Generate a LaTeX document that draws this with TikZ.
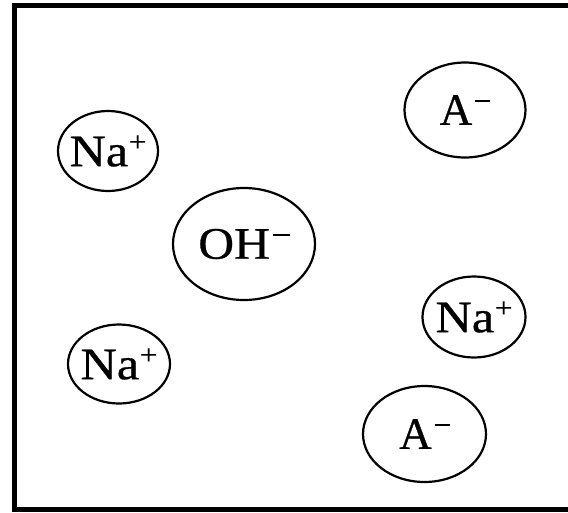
\documentclass[tikz,border=0pt]{standalone}
\usepackage{fontspec}
\setmainfont{Liberation Serif}[FakeBold=0.6]
\usetikzlibrary{shapes.geometric}
\newcommand\ionplus{\kern0.5pt\raisebox{15pt}{\fontsize{28}{28}\selectfont +}}
\newcommand\ionminus{\kern3pt\raisebox{23pt}{\rule{15pt}{1.8pt}}}
\newcommand\iontext[2]{\makebox[0pt][c]{\scalebox{#1}[1]{#2}}}
\begin{document}
\begin{tikzpicture}[x=1pt,y=-1pt,
  ion/.style={draw, ellipse, line width=2.2pt, inner sep=0pt,
    font=\fontsize{45}{45}\selectfont},
  frameline/.style={line width=5pt}]
\useasboundingbox (0,0) rectangle (568,512);
\fill[white] (0,0) rectangle (568,512);
\draw[frameline] (568,5) -- (14.5,5) -- (14.5,509.5) -- (568,509.5);
\node[ion, minimum width=100pt, minimum height=80pt] (na1) at (108,151) {\iontext{1.12}{Na\ionplus}};
\node[ion, minimum width=121pt, minimum height=95pt] (a1) at (465,110) {\iontext{1}{A\ionminus}};
\node[ion, minimum width=142pt, minimum height=112pt] (oh) at (244,244) {\iontext{1.1}{OH\ionminus}};
\node[ion, minimum width=103pt, minimum height=81pt] (na2) at (474,317) {\iontext{1.12}{Na\ionplus}};
\node[ion, minimum width=102pt, minimum height=79pt] (na3) at (119,364) {\iontext{1.12}{Na\ionplus}};
\node[ion, minimum width=123pt, minimum height=96pt] (a2) at (424.5,434) {\iontext{1}{A\ionminus}};
\end{tikzpicture}
\end{document}
